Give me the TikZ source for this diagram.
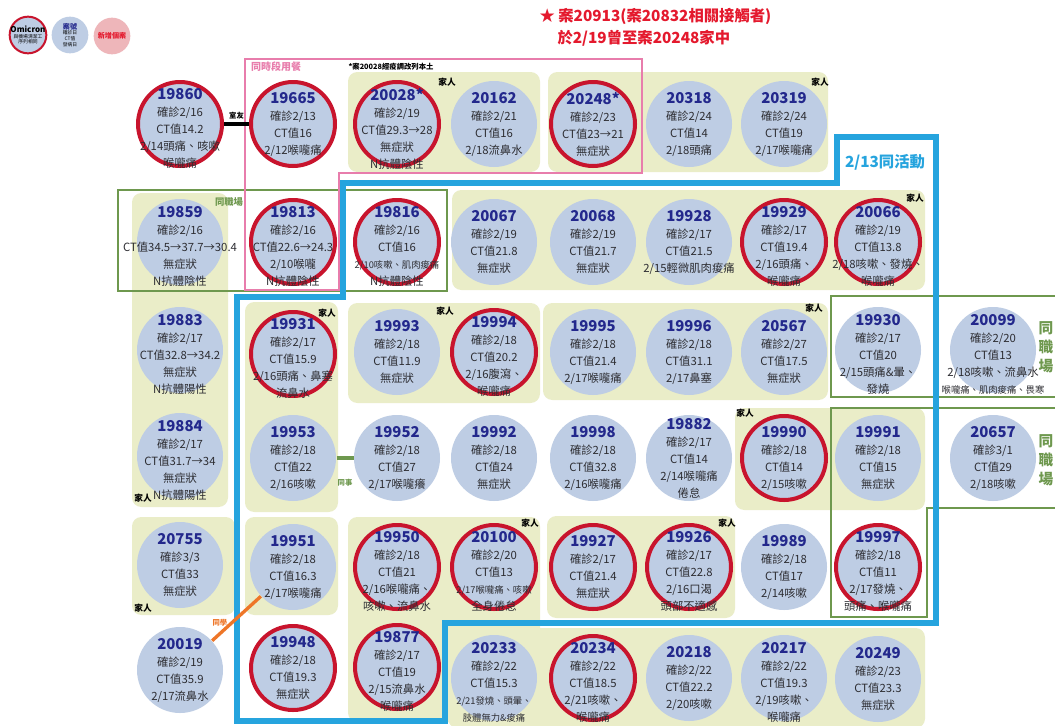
\documentclass[tikz,border=0pt]{standalone}
\usepackage{fontspec}
\setmainfont{Noto Sans CJK TC}
\usepackage{tikz}
\usetikzlibrary{positioning}
\definecolor{caseblue}{RGB}{190,205,228}
\definecolor{ringred}{RGB}{200,20,45}
\definecolor{numblue}{RGB}{35,40,140}
\definecolor{famyellow}{RGB}{234,237,200}
\definecolor{workgreen}{RGB}{110,152,78}
\definecolor{mealpink}{RGB}{232,125,172}
\definecolor{actblue}{RGB}{38,164,222}
\definecolor{schoolorange}{RGB}{238,118,40}
\definecolor{titlered}{RGB}{228,25,45}
\definecolor{newpink}{RGB}{238,182,186}
\definecolor{txtgray}{RGB}{45,45,50}
\tikzset{every picture/.style={line width=0.75pt}}
\newcommand{\cno}[1]{{\fontsize{11.2}{13}\selectfont\bfseries\color{numblue}#1}}
\newcommand{\sq}[1]{{\fontsize{7}{12.75}\selectfont #1}}

\begin{document}
\begin{tikzpicture}[x=0.75pt,y=0.75pt,yscale=-1,xscale=1,
	case/.style={circle, fill=caseblue, minimum size=64.5pt, inner sep=0pt},
	redcase/.style={circle, fill=caseblue, draw=ringred, line width=3pt, minimum size=63pt, inner sep=0pt},
	info/.style={align=center, inner sep=0pt, text=txtgray, font=\fontsize{8.5}{12.75}\selectfont},
	info4/.style={info, yshift=-3.5pt},
	family/.style={fill=famyellow, rounded corners=7pt},
	famtag/.style={inner sep=0pt, font=\fontsize{6.5}{7}\selectfont\bfseries},
	linktag/.style={inner sep=0pt, font=\fontsize{5.5}{6}\selectfont\bfseries},
	workframe/.style={draw=workgreen, line width=2.2pt},
	mealframe/.style={draw=mealpink, line width=2pt},
	actframe/.style={draw=actblue, line width=4.5pt},
	legendc/.style={circle, minimum size=27.5pt, inner sep=0pt},
	legendtxt/.style={align=center, inner sep=0pt, font=\fontsize{3.6}{4.4}\selectfont}]

		\fill[white] (0,0) rectangle (1055,725);
		\useasboundingbox (0,0) rectangle (1055,725);

		%Shape: Rectangle (family groups)
		\fill[family] (348,72) rectangle (540,172);
		\fill[family] (548,72) rectangle (828,172);
		\fill[family] (452,190) rectangle (925,290);
		\fill[family] (132,193) rectangle (228,507);
		\fill[family] (132,517) rectangle (235,615);
		\fill[family] (245,302) rectangle (338,512);
		\fill[family] (348,303) rectangle (540,403);
		\fill[family] (543,303) rectangle (828,400);
		\fill[family] (735,408) rectangle (925,510);
		\fill[family] (245,517) rectangle (338,615);
		\fill[family] (348,517) rectangle (540,722);
		\fill[family] (448,628) rectangle (925,728);
		\fill[family] (547,516) rectangle (735,618);

		%Shape: Frames
		\draw[workframe] (118,190) rectangle (447,291);
		\draw[workframe] (831,296) rectangle (1070,397);
		\draw[workframe] (831,408) -- (1070,408) -- (1070,508) -- (927,508) -- (927,617) -- (831,617) -- cycle;
		\draw[mealframe] (245,59) -- (642,59) -- (642,173) -- (339,173) -- (339,290) -- (245,290) -- cycle;
		\draw[actframe] (343,183) -- (837,183) -- (837,137) -- (936,137) -- (936,623) -- (445,623) -- (445,721) -- (237,721) -- (237,297) -- (343,297) -- cycle;

		%Shape: Circle (cases)
		\node[redcase] (c19860) at (180,124) {};
		\node[redcase] (c19665) at (293,124) {};
		\node[redcase] (c20028) at (397,124) {};
		\node[case] (c20162) at (494,124) {};
		\node[redcase] (c20248) at (593,124) {};
		\node[case] (c20318) at (689,124) {};
		\node[case] (c20319) at (784,124) {};

		\node[case] (c19859) at (180,242) {};
		\node[redcase] (c19813) at (293,242) {};
		\node[redcase] (c19816) at (397,242) {};
		\node[case] (c20067) at (494,242) {};
		\node[case] (c20068) at (593,242) {};
		\node[case] (c19928) at (689,242) {};
		\node[redcase] (c19929) at (784,242) {};
		\node[redcase] (c20066) at (878,242) {};

		\node[case] (c19883) at (180,350) {};
		\node[redcase] (c19931) at (293,354) {};
		\node[case] (c19993) at (397,352) {};
		\node[redcase] (c19994) at (494,352) {};
		\node[case] (c19995) at (593,352) {};
		\node[case] (c19996) at (689,352) {};
		\node[case] (c20567) at (784,352) {};
		\node[case] (c19930) at (878,350) {};
		\node[case] (c20099) at (993,350) {};

		\node[case] (c19884) at (180,456) {};
		\node[case] (c19953) at (293,458) {};
		\node[case] (c19952) at (397,458) {};
		\node[case] (c19992) at (494,458) {};
		\node[case] (c19998) at (593,458) {};
		\node[case] (c19882) at (689,458) {};
		\node[redcase] (c19990) at (784,458) {};
		\node[case] (c19991) at (878,458) {};
		\node[case] (c20657) at (993,458) {};

		%Straight Lines (links)
		\draw[line width=3pt] (c19860) -- (c19665) node[midway, above=2pt, linktag] (roomtag) {室友};
		\draw[workgreen, line width=2.5pt] (c19953) -- (c19952) node[midway, below=15pt, linktag, text=workgreen] (matetag) {同事};

		\node[case] (c20755) at (180,565) {};
		\node[case] (c19951) at (293,567) {};
		\node[redcase] (c19950) at (397,567) {};
		\node[redcase] (c20100) at (494,567) {};
		\node[redcase] (c19927) at (593,567) {};
		\node[redcase] (c19926) at (689,567) {};
		\node[case] (c19989) at (784,567) {};
		\node[redcase] (c19997) at (878,567) {};

		\node[case] (c20019) at (180,670) {};
		\draw[schoolorange, line width=2.5pt] (c20019) -- (c19951) node[pos=0.4, left=2pt, linktag, text=schoolorange] (classtag) {同學};
		\node[redcase] (c19948) at (293,668) {};
		\node[redcase] (c19877) at (397,667) {};
		\node[case] (c20233) at (494,678) {};
		\node[redcase] (c20234) at (593,678) {};
		\node[case] (c20218) at (689,678) {};
		\node[case] (c20217) at (784,678) {};
		\node[case] (c20249) at (878,679) {};

		% Text Node (case details)
		\node[info4] (t19860) at (c19860) {\cno{19860}\\確診2/16\\CT值14.2\\2/14頭痛、咳嗽\\喉嚨痛};
		\node[info] (t19665) at (c19665) {\cno{19665}\\確診2/13\\CT值16\\2/12喉嚨痛};
		\node[info4] (t20028) at (c20028) {\cno{20028*}\\確診2/19\\CT值29.3→28\\無症狀\\N抗體陰性};
		\node[info] (t20162) at (c20162) {\cno{20162}\\確診2/21\\CT值16\\2/18流鼻水};
		\node[info] (t20248) at (c20248) {\cno{20248*}\\確診2/23\\CT值23→21\\無症狀};
		\node[info] (t20318) at (c20318) {\cno{20318}\\確診2/24\\CT值14\\2/18頭痛};
		\node[info] (t20319) at (c20319) {\cno{20319}\\確診2/24\\CT值19\\2/17喉嚨痛};

		\node[info4] (t19859) at (c19859) {\cno{19859}\\確診2/16\\CT值34.5→37.7→30.4\\無症狀\\N抗體陰性};
		\node[info4] (t19813) at (c19813) {\cno{19813}\\確診2/16\\CT值22.6→24.3\\2/10喉嚨\\N抗體陰性};
		\node[info4] (t19816) at (c19816) {\cno{19816}\\確診2/16\\CT值16\\\sq{2/10咳嗽、肌肉痠痛}\\N抗體陰性};
		\node[info] (t20067) at (c20067) {\cno{20067}\\確診2/19\\CT值21.8\\無症狀};
		\node[info] (t20068) at (c20068) {\cno{20068}\\確診2/19\\CT值21.7\\無症狀};
		\node[info] (t19928) at (c19928) {\cno{19928}\\確診2/17\\CT值21.5\\2/15輕微肌肉痠痛};
		\node[info4] (t19929) at (c19929) {\cno{19929}\\確診2/17\\CT值19.4\\2/16頭痛、\\喉嚨痛};
		\node[info4] (t20066) at (c20066) {\cno{20066}\\確診2/19\\CT值13.8\\2/18咳嗽、發燒、\\喉嚨痛};

		\node[info4] (t19883) at (c19883) {\cno{19883}\\確診2/17\\CT值32.8→34.2\\無症狀\\N抗體陽性};
		\node[info4] (t19931) at (c19931) {\cno{19931}\\確診2/17\\CT值15.9\\2/16頭痛、鼻塞\\流鼻水};
		\node[info] (t19993) at (c19993) {\cno{19993}\\確診2/18\\CT值11.9\\無症狀};
		\node[info4] (t19994) at (c19994) {\cno{19994}\\確診2/18\\CT值20.2\\2/16腹瀉、\\喉嚨痛};
		\node[info] (t19995) at (c19995) {\cno{19995}\\確診2/18\\CT值21.4\\2/17喉嚨痛};
		\node[info] (t19996) at (c19996) {\cno{19996}\\確診2/18\\CT值31.1\\2/17鼻塞};
		\node[info] (t20567) at (c20567) {\cno{20567}\\確診2/27\\CT值17.5\\無症狀};
		\node[info4] (t19930) at (c19930) {\cno{19930}\\確診2/17\\CT值20\\2/15頭痛\&暈、\\發燒};
		\node[info4] (t20099) at (c20099) {\cno{20099}\\確診2/20\\CT值13\\2/18咳嗽、流鼻水\\\sq{喉嚨痛、肌肉痠痛、畏寒}};

		\node[info4] (t19884) at (c19884) {\cno{19884}\\確診2/17\\CT值31.7→34\\無症狀\\N抗體陽性};
		\node[info] (t19953) at (c19953) {\cno{19953}\\確診2/18\\CT值22\\2/16咳嗽};
		\node[info] (t19952) at (c19952) {\cno{19952}\\確診2/18\\CT值27\\2/17喉嚨癢};
		\node[info] (t19992) at (c19992) {\cno{19992}\\確診2/18\\CT值24\\無症狀};
		\node[info] (t19998) at (c19998) {\cno{19998}\\確診2/18\\CT值32.8\\2/16喉嚨痛};
		\node[info] (t19882) at (c19882) {\cno{19882}\\確診2/17\\CT值14\\2/14喉嚨痛\\倦怠};
		\node[info] (t19990) at (c19990) {\cno{19990}\\確診2/18\\CT值14\\2/15咳嗽};
		\node[info] (t19991) at (c19991) {\cno{19991}\\確診2/18\\CT值15\\無症狀};
		\node[info] (t20657) at (c20657) {\cno{20657}\\確診3/1\\CT值29\\2/18咳嗽};

		\node[info] (t20755) at (c20755) {\cno{20755}\\確診3/3\\CT值33\\無症狀};
		\node[info] (t19951) at (c19951) {\cno{19951}\\確診2/18\\CT值16.3\\2/17喉嚨痛};
		\node[info4] (t19950) at (c19950) {\cno{19950}\\確診2/18\\CT值21\\2/16喉嚨痛、\\咳嗽、流鼻水};
		\node[info4] (t20100) at (c20100) {\cno{20100}\\確診2/20\\CT值13\\\sq{2/17喉嚨痛、咳嗽}\\全身倦怠};
		\node[info] (t19927) at (c19927) {\cno{19927}\\確診2/17\\CT值21.4\\無症狀};
		\node[info4] (t19926) at (c19926) {\cno{19926}\\確診2/17\\CT值22.8\\2/16口渴\\頭部不適感};
		\node[info] (t19989) at (c19989) {\cno{19989}\\確診2/18\\CT值17\\2/14咳嗽};
		\node[info4] (t19997) at (c19997) {\cno{19997}\\確診2/18\\CT值11\\2/17發燒、\\頭痛、喉嚨痛};

		\node[info] (t20019) at (c20019) {\cno{20019}\\確診2/19\\CT值35.9\\2/17流鼻水};
		\node[info] (t19948) at (c19948) {\cno{19948}\\確診2/18\\CT值19.3\\無症狀};
		\node[info4] (t19877) at (c19877) {\cno{19877}\\確診2/17\\CT值19\\2/15流鼻水\\喉嚨痛};
		\node[info4] (t20233) at (c20233) {\cno{20233}\\確診2/22\\CT值15.3\\\sq{2/21發燒、頭暈、}\\\sq{肢體無力\&痠痛}};
		\node[info4] (t20234) at (c20234) {\cno{20234}\\確診2/22\\CT值18.5\\2/21咳嗽、\\喉嚨痛};
		\node[info] (t20218) at (c20218) {\cno{20218}\\確診2/22\\CT值22.2\\2/20咳嗽};
		\node[info4] (t20217) at (c20217) {\cno{20217}\\確診2/22\\CT值19.3\\2/19咳嗽、\\喉嚨痛};
		\node[info] (t20249) at (c20249) {\cno{20249}\\確診2/23\\CT值23.3\\無症狀};

		% Text Node (family tags)
		\node[famtag] (fam1) at (447,82) {家人};
		\node[famtag] (fam2) at (820,82) {家人};
		\node[famtag] (fam3) at (915,198) {家人};
		\node[famtag] (fam4) at (143,498) {家人};
		\node[famtag] (fam5) at (143,608) {家人};
		\node[famtag] (fam6) at (327,313) {家人};
		\node[famtag] (fam7) at (445,311) {家人};
		\node[famtag] (fam8) at (814,308) {家人};
		\node[famtag] (fam9) at (745,413) {家人};
		\node[famtag] (fam10) at (530,523) {家人};
		\node[famtag] (fam11) at (727,523) {家人};

		% Text Node (frame labels)
		\node[inner sep=0pt, text=mealpink, font=\fontsize{7.5}{8}\selectfont\bfseries] (mealtag) at (276,67) {同時段用餐};
		\node[inner sep=0pt, font=\fontsize{5.5}{6}\selectfont\bfseries] (notetag) at (391,67) {*案20028經疫調改列本土};
		\node[inner sep=0pt, text=workgreen, font=\fontsize{7}{8}\selectfont\bfseries] (worktag) at (229,202) {同職場};
		\node[inner sep=0pt, text=actblue, font=\fontsize{11.5}{12}\selectfont\bfseries] (acttag) at (885,162) {2/13同活動};
		\node[inner sep=0pt, align=center, text=workgreen, font=\fontsize{11}{14.25}\selectfont\bfseries] (worktag2) at (1046,347) {同\\職\\場};
		\node[inner sep=0pt, align=center, text=workgreen, font=\fontsize{11}{14.25}\selectfont\bfseries] (worktag3) at (1046,460) {同\\職\\場};

		% Text Node (title)
		\node[anchor=west, inner sep=0pt, text=titlered, font=\fontsize{11.5}{16}\selectfont\bfseries] (title1) at (539,16) {★ 案20913(案20832相關接觸者)};
		\node[anchor=west, inner sep=0pt, text=titlered, font=\fontsize{11.5}{16}\selectfont\bfseries] (title2) at (557,38) {於2/19曾至案20248家中};

		%Shape: Circle (legend)
		\node[legendc, fill=caseblue, draw=ringred, line width=1.5pt] (lgomicron) at (28,35) {};
		\node[legendtxt] (tlgomicron) at (lgomicron) {{\fontsize{6}{7}\selectfont\bfseries Omicron}\\與機場清潔工\\序列相同};
		\node[legendc, fill=caseblue] (lgcase) at (70,35) {};
		\node[legendtxt] (tlgcase) at (lgcase) {{\fontsize{5.3}{6}\selectfont\bfseries\color{numblue}案號}\\確診日\\CT值\\發病日};
		\node[legendc, fill=newpink] (lgnew) at (112,36) {};
		\node[legendtxt, text=titlered, font=\fontsize{5.3}{6}\selectfont\bfseries] (tlgnew) at (lgnew) {新增個案};

\end{tikzpicture}
\end{document}
